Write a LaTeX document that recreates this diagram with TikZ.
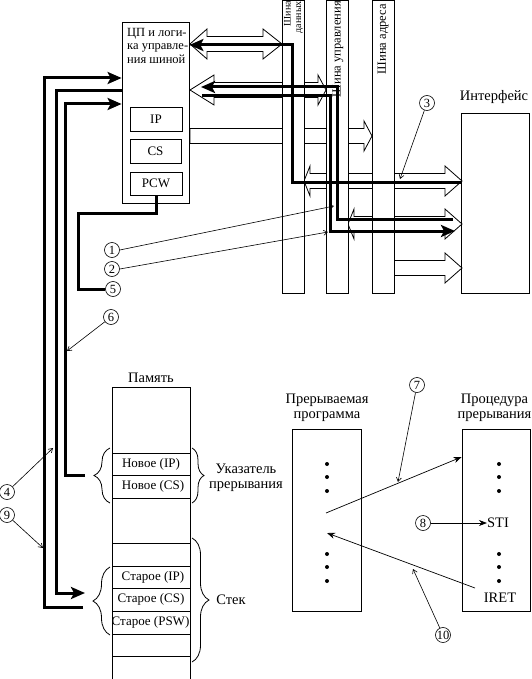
\documentclass[tikz,border=0pt]{standalone}
\usepackage{fontspec}
\setmainfont{Liberation Serif}
\usetikzlibrary{arrows.meta,decorations.pathreplacing}

% hollow bus arrow, pointing right: from x=#1 to x=#2 at height #3, head length #4
\newcommand{\arrR}[4]{\draw[hollow] (#1,#3-7.5) -- (#2-#4,#3-7.5) -- (#2-#4,#3-15)
    -- (#2,#3) -- (#2-#4,#3+15) -- (#2-#4,#3+7.5) -- (#1,#3+7.5) -- cycle;}
% hollow bus arrow with two heads, head lengths #4 (left) and #5 (right)
\newcommand{\arrLR}[5]{\draw[hollow] (#1,#3) -- (#1+#4,#3-15) -- (#1+#4,#3-7.5)
    -- (#2-#5,#3-7.5) -- (#2-#5,#3-15) -- (#2,#3) -- (#2-#5,#3+15)
    -- (#2-#5,#3+7.5) -- (#1+#4,#3+7.5) -- (#1+#4,#3+15) -- cycle;}

\begin{document}
\begin{tikzpicture}[x=1pt,y=-1pt,
    wire/.style={line width=.8pt},
    hollow/.style={draw,fill=white,line width=.8pt},
    box/.style={draw,line width=.8pt,inner sep=0pt},
    bus/.style={box,fill=white,minimum width=22pt,minimum height=293pt},
    fat/.style={line width=3pt},
    fathead/.style={fat,-{Stealth[length=14pt,width=12pt,inset=3pt]}},
    lbl/.style={font=\fontsize{14.5}{14.5}\selectfont,inner sep=0pt},
    cell/.style={font=\fontsize{13}{14}\selectfont,inner sep=0pt},
    buslbl/.style={font=\fontsize{12.5}{12}\selectfont,inner sep=0pt,rotate=90},
    num/.style={circle,draw,line width=.6pt,inner sep=0pt,minimum size=15pt,
        font=\fontsize{12.5}{12}\selectfont},
    pointer/.style={line width=.6pt,-{Straight Barb[length=4pt,width=5pt]}},
    flow/.style={line width=.7pt,-{Stealth[length=8pt,width=6pt]}},
    brace/.style={wire,decorate}]
\useasboundingbox (0,0) rectangle (531,679);

% hollow arrows, under the buses
\arrLR{190}{282}{44}{17}{19}
\arrLR{190}{326}{90}{24}{8}
\arrR{190}{372}{136}{8}
\arrLR{304}{462}{181}{6}{17}
\arrLR{348}{462}{224}{6}{17}
\arrR{394}{462}{268}{17}

% buses
\node[bus] (dbus) at (293,146.5) {};
\node[bus] (cbus) at (337,146.5) {};
\node[bus] (abus) at (383,146.5) {};
\node[buslbl,font=\fontsize{10}{10.5}\selectfont,anchor=east,align=right] at (293.5,1) {Шина\\данных};
\node[buslbl,anchor=east] at (338,1) {Шина управления};
\node[buslbl,anchor=east] at (383,4) {Шина адреса};

% interface
\node[box,minimum width=68pt,minimum height=180pt] (intf) at (495,203) {};
\node[lbl] at (494,97) {Интерфейс};

% CPU
\node[cell,anchor=north west,align=left,font=\fontsize{12.5}{13.5}\selectfont] at (127,28) {ЦП и логи-\\ка управле-\\ния шиной};
\node[box,minimum width=67pt,minimum height=181pt] (cpu) at (155.5,112.5) {};
\node[box,cell,minimum width=52pt,minimum height=24pt] (ip) at (156,119) {IP};
\node[box,cell,minimum width=51pt,minimum height=24pt] (cs) at (155.5,151) {CS};
\node[box,cell,minimum width=52pt,minimum height=23pt] (pcw) at (156,183.5) {PCW};

% memory
\draw[wire] (112,679) |- (190,387) -- (190,679);
\foreach \y in {453,475,498,543,566,588,611,634,656}
    \draw[wire] (112,\y) -- (190,\y);
\node[lbl] (memlbl) at (151,378) {Память};
\node[cell] (newip) at (151,464) {Новое (IP)};
\node[cell] (newcs) at (153,486.5) {Новое (CS)};
\node[cell] (oldip) at (153,577) {Старое (IP)};
\node[cell] (oldcs) at (151,599.5) {Старое (CS)};
\node[cell] (oldpsw) at (150.5,622.5) {Старое (PSW)};
\draw[brace,decoration={brace,amplitude=16pt}] (110,503) -- (110,448);
\draw[brace,decoration={brace,amplitude=12pt}] (192,448) -- (192,503);
\draw[brace,decoration={brace,amplitude=17pt}] (110,635) -- (110,567);
\draw[brace,decoration={brace,amplitude=17pt}] (192,538) -- (192,662);
\node[lbl,align=center] (vec) at (246,478) {Указатель\\прерывания};
\node[lbl] (stack) at (231,600) {Стек};

% programs
\node[box,minimum width=69pt,minimum height=182pt] (prog) at (326.5,520) {};
\node[lbl,align=center] at (327,408) {Прерываемая\\программа};
\node[box,minimum width=68pt,minimum height=182pt] (proc) at (496,520) {};
\node[lbl,align=center] at (494.5,408) {Процедура\\прерывания};
\foreach \y in {464,477,491,554,567,581} {
    \fill (327,\y) circle (2pt);
    \fill (499,\y) circle (2pt);
}
\node[lbl] (sti) at (498,523) {STI};
\node[lbl] (iret) at (500,598) {IRET};
\coordinate (call) at (326,513);
\coordinate (ret) at (327,533);
\coordinate (iretx) at (475,588);
\draw[flow] (call) -- (proc.west |- 0,457);
\draw[flow] (iretx) -- (ret);

% circled numbers
\node[num] (c1) at (112,250) {1};
\node[num] (c2) at (112,269) {2};
\node[num] (c3) at (427,103) {3};
\node[num] (c4) at (7,492) {4};
\node[num] (c5) at (113,289) {5};
\node[num] (c6) at (111,317) {6};
\node[num] (c7) at (417,385) {7};
\node[num] (c8) at (423,523) {8};
\node[num] (c9) at (7,515) {9};
\node[num] (c10) at (443,635) {10};

% thick signal lines
\coordinate (t2) at (453,219);
\coordinate (t3) at (202,96);
\draw[fathead] (intf.west |- 0,182) -| (292,45) -- (cpu.east |- 0,45);
\draw[fathead] (t2) -| (337,87) -- (201,87);
\draw[fathead] (t3) -| (330,231) -- (455,231);
\draw[fathead] (83,607) -| (44,78) -- (cpu.west |- 0,78);
\draw[fathead] (cpu.west |- 0,91) -| (56,593) -- (85,593);
\draw[fathead] (85,475) -| (65,104) -- (cpu.west |- 0,104);
\draw[fat] (pcw.south) |- (78,213) |- (c5.west);

% pointers of the numbers
\draw[pointer] (c1.east) -- (334,206);
\draw[pointer] (c2.east) -- (328,232);
\draw[pointer] (c3) -- (400,179);
\draw[pointer] (c4) -- (53,448);
\draw[pointer] (c6) -- (67,351);
\draw[pointer] (c7) -- (398,482);
\draw[pointer] (c9) -- (43,548);
\draw[pointer] (c10) -- (413,569);
\draw[flow] (c8) -- (sti.west);
\end{tikzpicture}
\end{document}
